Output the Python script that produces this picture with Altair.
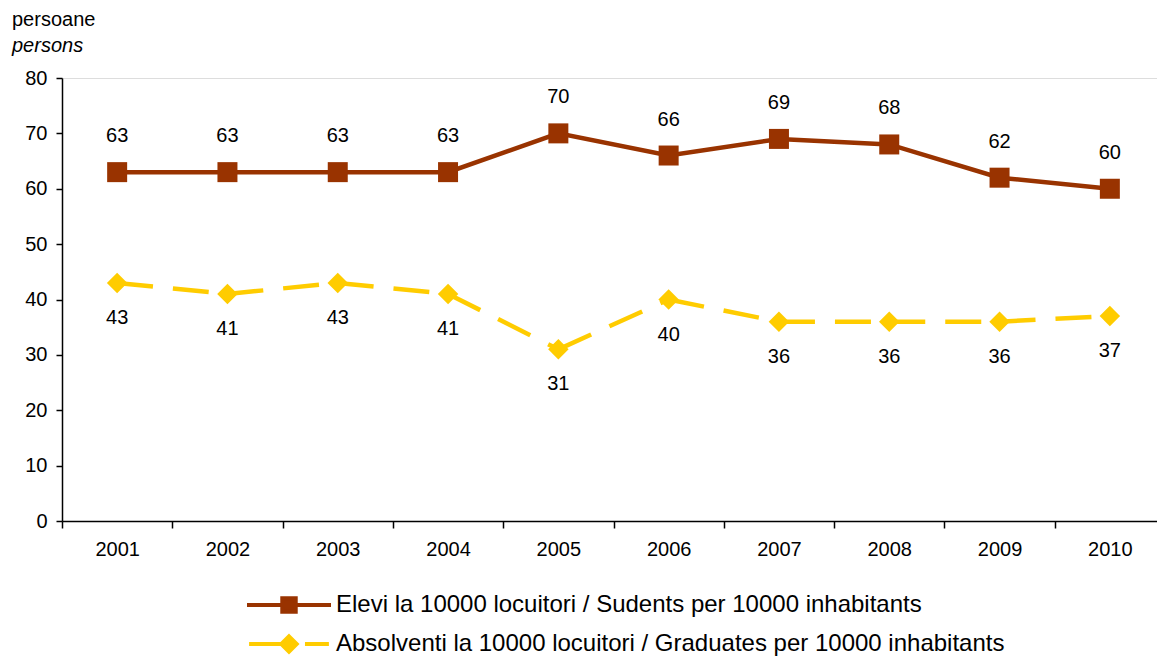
import altair as alt
import pandas as pd

years = ["2001", "2002", "2003", "2004", "2005", "2006", "2007", "2008", "2009", "2010"]
students = [63, 63, 63, 63, 70, 66, 69, 68, 62, 60]
graduates = [43, 41, 43, 41, 31, 40, 36, 36, 36, 37]
s1 = "Elevi la 10000 locuitori / Sudents per 10000 inhabitants"
s2 = "Absolventi la 10000 locuitori / Graduates per 10000 inhabitants"
series_names = [s1, s2]
colors = ["#993300", "#FFCC00"]
y_ticks = [0, 10, 20, 30, 40, 50, 60, 70, 80]

FONT = "Liberation Sans"
FS = 20
LFS = 24

df1 = pd.DataFrame({"year": years, "value": students, "series": s1})
df2 = pd.DataFrame({"year": years, "value": graduates, "series": s2})
df_all = pd.concat([df1, df2], ignore_index=True)

# segments for the dashed series (dash pattern restarts at each segment)
seg_rows = []
for i in range(len(years) - 1):
    seg_rows.append({"seg": i, "year": years[i], "value": graduates[i]})
    seg_rows.append({"seg": i, "year": years[i + 1], "value": graduates[i + 1]})
df_seg = pd.DataFrame(seg_rows)

x_enc = alt.X("year:N", sort=years,
              scale=alt.Scale(type="band", paddingInner=0, paddingOuter=0, range=[0, 1103]),
              axis=alt.Axis(title=None, labelAngle=0, tickBand="extent",
                            labelFontSize=FS, labelFont=FONT, labelColor="black",
                            labelPadding=11, tickSize=7, tickColor="black", tickWidth=1.5,
                            domainColor="black", domainWidth=1.5, grid=False))
y_scale = alt.Scale(domain=[0, 80], nice=False)
y_enc = alt.Y("value:Q", scale=y_scale,
              axis=alt.Axis(title=None, values=y_ticks, labelFontSize=FS, labelFont=FONT,
                            labelColor="black", labelPadding=9, tickSize=6,
                            tickColor="black", tickWidth=1.5, domainColor="black",
                            domainWidth=1.5, grid=False))

line1 = alt.Chart(df1).mark_line(color=colors[0], strokeWidth=4.5).encode(x=x_enc, y=y_enc)
line2 = alt.Chart(df_seg).mark_line(color=colors[1], strokeWidth=4.5,
                                    strokeDash=[36, 20]).encode(
    x=alt.X("year:N", sort=years), y=alt.Y("value:Q"), detail="seg:N")

pts1 = alt.Chart(df1).mark_point(shape="square", filled=True, size=400, opacity=1,
                                 color=colors[0]).encode(x=alt.X("year:N", sort=years), y="value:Q")
pts2 = alt.Chart(df2).mark_point(shape="diamond", filled=True, size=420, opacity=1,
                                 color=colors[1]).encode(x=alt.X("year:N", sort=years), y="value:Q")

txt1 = alt.Chart(df1).mark_text(dy=-36, fontSize=FS, font=FONT, color="black",
                                baseline="middle").encode(
    x=alt.X("year:N", sort=years), y="value:Q", text="value:Q")
txt2 = alt.Chart(df2).mark_text(dy=35, fontSize=FS, font=FONT, color="black",
                                baseline="middle").encode(
    x=alt.X("year:N", sort=years), y="value:Q", text="value:Q")

path1 = "M-3,0L3,0M-0.48,-0.48L0.48,-0.48L0.48,0.48L-0.48,0.48Z"
path2 = "M-2.85,0L-0.3,0M1.14,0L2.85,0M0,-0.55L0.55,0L0,0.55L-0.55,0Z"

leg = alt.Legend(orient="none", legendX=211, legendY=511, title=None,
                 symbolSize=784, symbolStrokeWidth=4, labelOffset=31,
                 labelFontSize=LFS, labelFont=FONT, labelColor="black",
                 rowPadding=8, symbolOpacity=1, labelLimit=0)

legend_layer = alt.Chart(df_all).mark_point(filled=True, opacity=0).encode(
    x=alt.X("year:N", sort=years), y="value:Q",
    shape=alt.Shape("series:N", sort=series_names,
                    scale=alt.Scale(domain=series_names, range=[path1, path2]), legend=leg),
    fill=alt.Fill("series:N", sort=series_names,
                  scale=alt.Scale(domain=series_names, range=colors), legend=leg),
    stroke=alt.Stroke("series:N", sort=series_names,
                      scale=alt.Scale(domain=series_names, range=colors), legend=leg),
)

chart = alt.layer(line1, line2, pts1, pts2, txt1, txt2, legend_layer).properties(
    width=1095, height=443,
    autosize=alt.AutoSizeParams(type="none"),
    padding={"left": 54, "top": 70, "right": 0, "bottom": 136},
    title=alt.TitleParams(text="persoane", subtitle="persons", anchor="start",
                          frame="group", dx=-50, offset=12, font=FONT, fontSize=FS,
                          fontWeight="normal", color="black", subtitleFont=FONT,
                          subtitleFontSize=FS, subtitleFontStyle="italic",
                          subtitleColor="black", subtitlePadding=6),
).configure_view(stroke=None).configure(background="white").configure_legend(
    labelFontSize=LFS, labelFont=FONT, labelColor="black", labelLimit=0)

chart.save("out.html", embed_options={"renderer": "svg", "actions": False})
